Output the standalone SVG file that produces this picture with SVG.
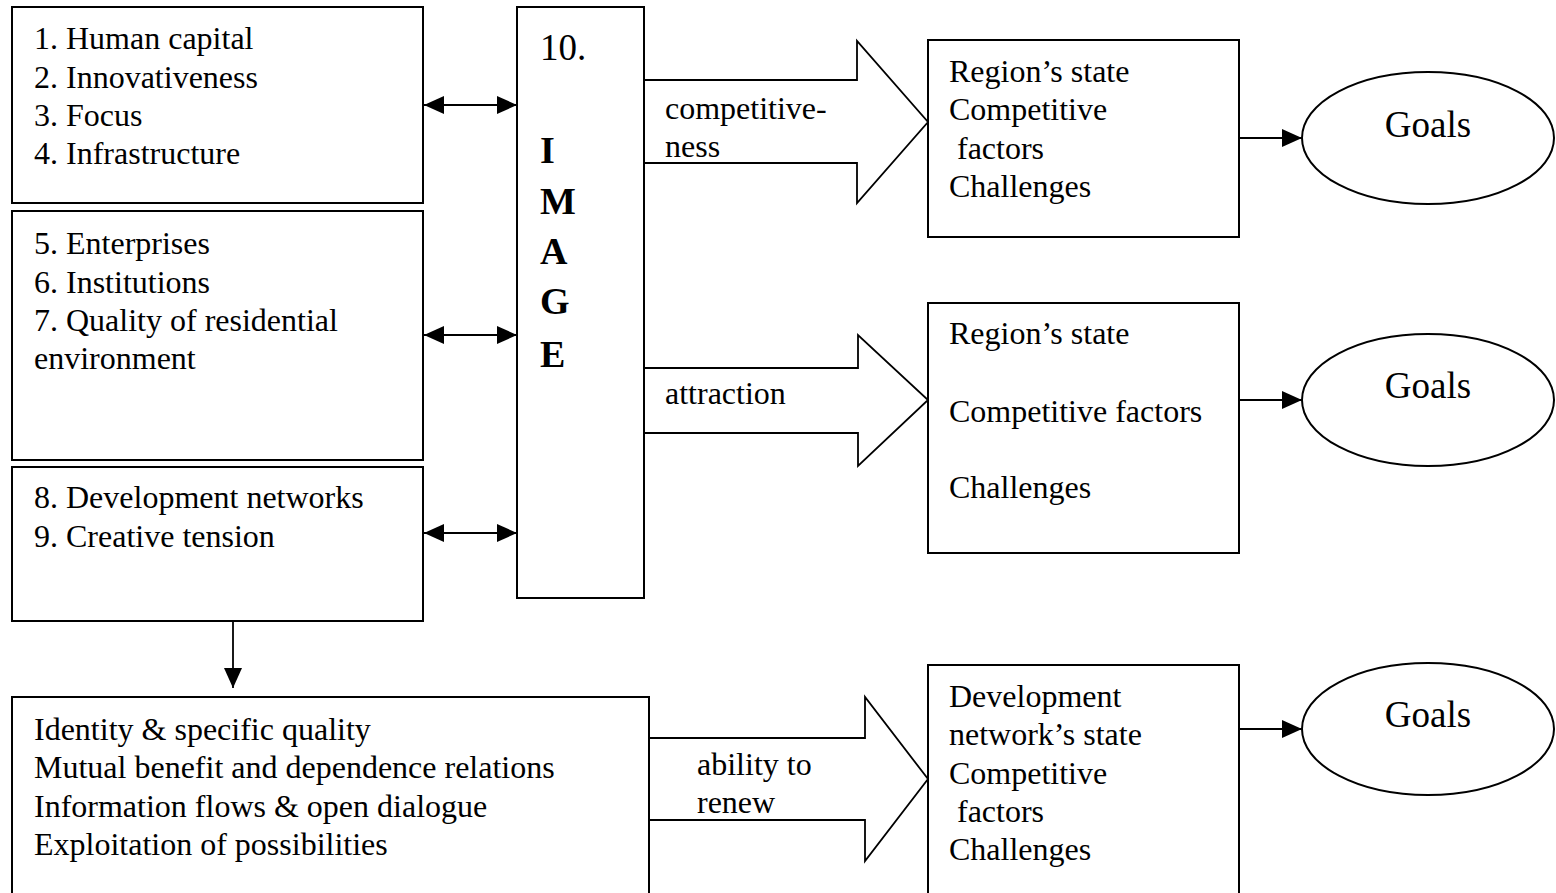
<svg xmlns="http://www.w3.org/2000/svg" width="1556" height="893" viewBox="0 0 1556 893">
<style>
.box{fill:#fff;stroke:#000;stroke-width:2}
.arr{fill:#fff;stroke:#000;stroke-width:1.8}
.ln{fill:none;stroke:#000;stroke-width:1.8}
text{font-family:"Liberation Serif","Times New Roman",serif;font-size:32px;fill:#000}
.big{font-size:37px}
.bold{font-weight:bold;font-size:38px}
</style>
<defs>
<marker id="ah" markerUnits="userSpaceOnUse" markerWidth="20" markerHeight="20" viewBox="0 0 20 20" refX="20" refY="10" orient="auto-start-reverse">
<path d="M0,1 L20,10 L0,19 Z" fill="#000"/>
</marker>
</defs>
<rect width="1556" height="893" fill="#fff"/>
<g id="connectors">
<line class="ln" x1="424" y1="105" x2="517" y2="105" marker-start="url(#ah)" marker-end="url(#ah)"/>
<line class="ln" x1="424" y1="335" x2="517" y2="335" marker-start="url(#ah)" marker-end="url(#ah)"/>
<line class="ln" x1="424" y1="533" x2="517" y2="533" marker-start="url(#ah)" marker-end="url(#ah)"/>
<line class="ln" x1="233" y1="621" x2="233" y2="688" marker-end="url(#ah)"/>
<line class="ln" x1="1239" y1="138" x2="1302" y2="138" marker-end="url(#ah)"/>
<line class="ln" x1="1239" y1="400" x2="1302" y2="400" marker-end="url(#ah)"/>
<line class="ln" x1="1239" y1="729" x2="1302" y2="729" marker-end="url(#ah)"/>
<polyline class="arr" points="644,80 857,80 857,41 928,122 857,203 857,163 644,163"/>
<polyline class="arr" points="644,368 858,368 858,335 928,400 858,466 858,433 644,433"/>
<polyline class="arr" points="649,738 865,738 865,697 928,779 865,861 865,820 649,820"/>
<text x="665" y="119">competitive-</text>
<text x="665" y="157">ness</text>
<text x="665" y="404">attraction</text>
<text x="697" y="775">ability to</text>
<text x="697" y="813">renew</text>
</g>
<g id="factors1">
<rect class="box" x="12" y="7" width="411" height="196"/>
<text x="34" y="49">1. Human capital</text>
<text x="34" y="88">2. Innovativeness</text>
<text x="34" y="126">3. Focus</text>
<text x="34" y="164">4. Infrastructure</text>
</g>
<g id="factors2">
<rect class="box" x="12" y="211" width="411" height="249"/>
<text x="34" y="254">5. Enterprises</text>
<text x="34" y="293">6. Institutions</text>
<text x="34" y="331">7. Quality of residential</text>
<text x="34" y="369">environment</text>
</g>
<g id="factors3">
<rect class="box" x="12" y="467" width="411" height="154"/>
<text x="34" y="508">8. Development networks</text>
<text x="34" y="547">9. Creative tension</text>
</g>
<g id="image">
<rect class="box" x="517" y="7" width="127" height="591"/>
<text class="big" x="540" y="60">10.</text>
<text class="bold" x="540" y="163">I</text>
<text class="bold" x="540" y="214">M</text>
<text class="bold" x="540" y="264">A</text>
<text class="bold" x="540" y="314">G</text>
<text class="bold" x="540" y="367">E</text>
</g>
<g id="identity">
<rect class="box" x="12" y="697" width="637" height="200"/>
<text x="34" y="740">Identity &amp; specific quality</text>
<text x="34" y="778">Mutual benefit and dependence relations</text>
<text x="34" y="817">Information flows &amp; open dialogue</text>
<text x="34" y="855">Exploitation of possibilities</text>
</g>
<g id="state1">
<rect class="box" x="928" y="40" width="311" height="197"/>
<text x="949" y="82">Region’s state</text>
<text x="949" y="120">Competitive</text>
<text x="949" y="159" xml:space="preserve"> factors</text>
<text x="949" y="197">Challenges</text>
</g>
<g id="state2">
<rect class="box" x="928" y="303" width="311" height="250"/>
<text x="949" y="344">Region’s state</text>
<text x="949" y="422">Competitive factors</text>
<text x="949" y="498">Challenges</text>
</g>
<g id="state3">
<rect class="box" x="928" y="665" width="311" height="232"/>
<text x="949" y="707">Development</text>
<text x="949" y="745">network’s state</text>
<text x="949" y="784">Competitive</text>
<text x="949" y="822" xml:space="preserve"> factors</text>
<text x="949" y="860">Challenges</text>
</g>
<g id="goals1">
<ellipse class="box" cx="1428" cy="138" rx="126" ry="66"/>
<text class="big" x="1428" y="137" text-anchor="middle">Goals</text>
</g>
<g id="goals2">
<ellipse class="box" cx="1428" cy="400" rx="126" ry="66"/>
<text class="big" x="1428" y="398" text-anchor="middle">Goals</text>
</g>
<g id="goals3">
<ellipse class="box" cx="1428" cy="729" rx="126" ry="66"/>
<text class="big" x="1428" y="727" text-anchor="middle">Goals</text>
</g>
</svg>
